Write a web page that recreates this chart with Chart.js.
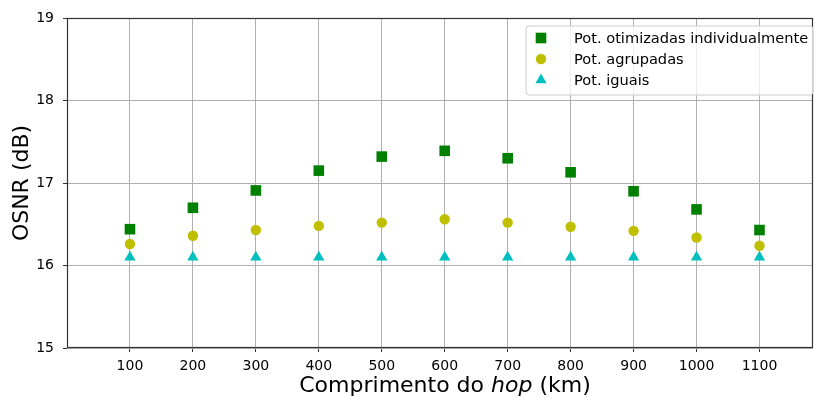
<!DOCTYPE html>
<html>
<head>
<meta charset="utf-8">
<script src="https://cdn.jsdelivr.net/npm/chart.js@4/dist/chart.umd.min.js"></script>
<style>
  html, body { margin: 0; padding: 0; background: #fff; }
  #wrap { width: 814px; height: 398px; }
</style>
</head>
<body>
<div id="wrap"><canvas id="osnrChart"></canvas></div>
<script>
// hop length (km)
const hopLengths = [100, 200, 300, 400, 500, 600, 700, 800, 900, 1000, 1100];
// OSNR (dB) per launch-power strategy
const osnrOtimizadas = [16.44, 16.70, 16.91, 17.15, 17.32, 17.39, 17.30, 17.13, 16.90, 16.68, 16.43];
const osnrAgrupadas = [16.26, 16.36, 16.43, 16.48, 16.52, 16.56, 16.52, 16.47, 16.42, 16.34, 16.24];
const osnrIguais = [16.10, 16.10, 16.10, 16.10, 16.10, 16.10, 16.10, 16.10, 16.10, 16.10, 16.10];
const xTickValues = [100, 200, 300, 400, 500, 600, 700, 800, 900, 1000, 1100];
const yTickValues = [15, 16, 17, 18, 19];

const FONT = "'DejaVu Sans', sans-serif";

function toPoints(values) {
  return values.map((v, i) => ({ x: hopLengths[i], y: v }));
}

// spines, axis titles and the in-plot legend
const framePlugin = {
  id: 'frame',
  afterDraw(chart) {
    const ctx = chart.ctx;
    const a = chart.chartArea;
    ctx.save();

    ctx.strokeStyle = '#333333';
    ctx.lineWidth = 1.2;
    ctx.strokeRect(Math.round(a.left) + 0.5, Math.round(a.top) + 0.5,
      Math.round(a.right - a.left) - 1, Math.round(a.bottom - a.top) - 1);

    // x title with italic "hop"
    ctx.fillStyle = '#000';
    ctx.textBaseline = 'middle';
    const parts = [
      { t: 'Comprimento do ', f: `22px ${FONT}` },
      { t: 'hop', f: `oblique 22px ${FONT}` },
      { t: ' (km)', f: `22px ${FONT}` }
    ];
    let total = 0;
    parts.forEach(p => { ctx.font = p.f; p.w = ctx.measureText(p.t).width; total += p.w; });
    let x = (a.left + a.right) / 2 + 5 - total / 2;
    ctx.textAlign = 'left';
    parts.forEach(p => { ctx.font = p.f; ctx.fillText(p.t, x, 386); x += p.w; });

    // y title
    ctx.save();
    ctx.translate(22, (a.top + a.bottom) / 2);
    ctx.rotate(-Math.PI / 2);
    ctx.textAlign = 'center';
    ctx.font = `22px ${FONT}`;
    ctx.fillText('OSNR (dB)', 0, 0);
    ctx.restore();

    // legend box
    const bx = 526, by = 26, bw = 287, bh = 69, r = 3;
    ctx.beginPath();
    ctx.moveTo(bx + r, by);
    ctx.arcTo(bx + bw, by, bx + bw, by + bh, r);
    ctx.arcTo(bx + bw, by + bh, bx, by + bh, r);
    ctx.arcTo(bx, by + bh, bx, by, r);
    ctx.arcTo(bx, by, bx + bw, by, r);
    ctx.closePath();
    ctx.fillStyle = 'rgba(255,255,255,0.8)';
    ctx.fill();
    ctx.lineWidth = 1;
    ctx.strokeStyle = '#cccccc';
    ctx.stroke();

    ctx.font = `14.6px ${FONT}`;
    ctx.textAlign = 'left';
    chart.data.datasets.forEach((ds, i) => {
      const ry = 38 + i * 21;
      ctx.fillStyle = ds.backgroundColor;
      ctx.strokeStyle = ds.borderColor;
      Chart.helpers.drawPoint(ctx, {
        pointStyle: ds.pointStyle,
        radius: ds.pointRadius,
        borderWidth: 0,
        rotation: 0
      }, 541, ry);
      ctx.fillStyle = '#000';
      ctx.fillText(ds.label, 574, ry + 1);
    });
    ctx.restore();
  }
};

new Chart(document.getElementById('osnrChart'), {
  type: 'scatter',
  data: {
    datasets: [
      {
        label: 'Pot. otimizadas individualmente',
        data: toPoints(osnrOtimizadas),
        pointStyle: 'rect',
        pointRadius: 7.5,
        backgroundColor: '#008000',
        borderColor: '#008000',
        borderWidth: 0
      },
      {
        label: 'Pot. agrupadas',
        data: toPoints(osnrAgrupadas),
        pointStyle: 'circle',
        pointRadius: 5.2,
        backgroundColor: '#bfbf00',
        borderColor: '#bfbf00',
        borderWidth: 0
      },
      {
        label: 'Pot. iguais',
        data: toPoints(osnrIguais),
        pointStyle: 'triangle',
        pointRadius: 6.5,
        backgroundColor: '#00bfbf',
        borderColor: '#00bfbf',
        borderWidth: 0
      }
    ]
  },
  options: {
    responsive: true,
    maintainAspectRatio: false,
    animation: false,
    layout: { autoPadding: false, padding: { left: 0, top: 18, right: 1, bottom: 0 } },
    plugins: {
      legend: { display: false },
      tooltip: { enabled: false }
    },
    scales: {
      x: {
        type: 'linear',
        min: 0,
        max: 1185,
        afterBuildTicks: scale => { scale.ticks = xTickValues.map(v => ({ value: v })); },
        afterFit: scale => {
          scale.height = 50;
          scale.paddingLeft = 0;
          scale.paddingRight = 0;
        },
        grid: { color: '#b0b0b0', lineWidth: 1, tickColor: '#333333', tickLength: 4 },
        border: { display: false },
        ticks: {
          color: '#000',
          font: { family: FONT, size: 14 },
          padding: 6,
          maxRotation: 0,
          callback: v => String(v)
        }
      },
      y: {
        min: 15,
        max: 19,
        afterBuildTicks: scale => { scale.ticks = yTickValues.map(v => ({ value: v })); },
        afterFit: scale => { scale.width = 67; },
        grid: { color: '#b0b0b0', lineWidth: 1, tickColor: '#333333', tickLength: 4 },
        border: { display: false },
        ticks: { color: '#000', font: { family: FONT, size: 14 }, padding: 9 }
      }
    }
  },
  plugins: [framePlugin]
});
</script>
</body>
</html>
